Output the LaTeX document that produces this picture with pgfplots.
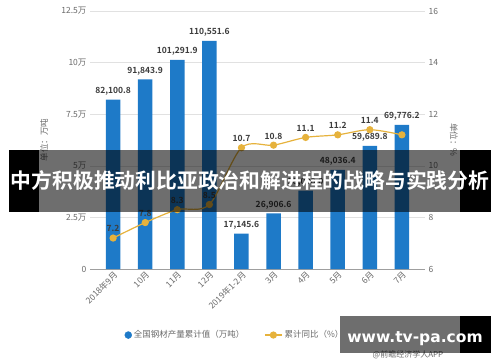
\documentclass[border=0pt]{standalone}
\usepackage{pgfplots}
\pgfplotsset{compat=1.18}
\usepackage{fontspec}
\setmainfont{Noto Sans CJK SC}[BoldFont={Noto Sans CJK SC Bold}]
\newfontfamily\dejavu{DejaVu Sans}
\definecolor{barblue}{RGB}{30,122,200}
\definecolor{linegold}{RGB}{230,178,60}
\definecolor{tickgray}{RGB}{105,105,105}
\definecolor{labgray}{RGB}{60,60,60}
\definecolor{gridgray}{RGB}{225,225,225}
\pgfplotstableread{
x y lab
0 82100.8 82,100.8
1 91843.9 91,843.9
2 101291.9 101,291.9
3 110551.6 110,551.6
4 17145.6 17,145.6
5 26906.6 26,906.6
6 38000.0 38,000.0
7 48036.4 48,036.4
8 59689.8 59,689.8
9 69776.2 69,776.2
}\bardata
\pgfplotstableread{
x y lab
0 7.2 7.2
1 7.8 7.8
2 8.3 8.3
3 8.5 8.5
4 10.7 10.7
5 10.8 10.8
6 11.1 11.1
7 11.2 11.2
8 11.4 11.4
9 11.2 {}
}\linedata
\begin{document}
\begin{tikzpicture}[x=1pt,y=1pt]
\useasboundingbox (0,0) rectangle (500,362);
\begin{axis}[
  at={(90pt,93pt)}, anchor=south west,
  scale only axis, width=335pt, height=258pt,
  xmin=-0.72, xmax=9.72,
  ymin=0, ymax=125000,
  scaled y ticks=false,
  axis y line*=left, axis x line*=bottom,
  axis line style={-},
  y axis line style={draw=none},
  x axis line style={draw=gray!75, line width=0.6pt},
  ytick={0,25000,50000,75000,100000,125000},
  yticklabels={0,2.5万,5万,7.5万,10万,12.5万},
  xtick={0,...,9},
  xticklabels={2018年9月,10月,11月,12月,2019年1-2月,3月,4月,5月,6月,7月},
  x tick label style={rotate=45, anchor=north east, font=\fontsize{8.5}{10}\selectfont, text=tickgray, inner sep=1pt},
  y tick label style={font=\fontsize{8.5}{10}\selectfont, text=tickgray},
  /pgf/number format/assume math mode=true,
  major tick length=0pt,
  ymajorgrids, grid style={gridgray, line width=0.6pt},
  clip=false,
]
\addplot[ybar, bar width=14.5pt, fill=barblue, draw=none,
  nodes near coords, point meta=explicit symbolic,
  every node near coord/.append style={font=\bfseries\fontsize{8.5}{10}\selectfont, text=labgray, yshift=1pt}]
  table[x=x, y=y, meta=lab] {\bardata};
\end{axis}
\begin{axis}[
  at={(90pt,93pt)}, anchor=south west,
  scale only axis, width=335pt, height=258pt,
  xmin=-0.72, xmax=9.72,
  ymin=6, ymax=16,
  axis y line*=right, axis x line=none,
  axis line style={-},
  y axis line style={draw=none},
  ytick={6,8,10,12,14,16},
  y tick label style={font=\fontsize{8.5}{10}\selectfont, text=tickgray},
  /pgf/number format/assume math mode=true,
  major tick length=0pt,
  clip=false,
  legend columns=2,
  legend style={at={(0.433,-0.256)}, anchor=center, draw=none, fill=none,
    font=\fontsize{8.5}{10}\selectfont, text=tickgray,
    /tikz/every even column/.append style={column sep=18pt}},
]
\addlegendimage{only marks, mark=*, mark size=3.5pt, mark options={draw=barblue, fill=barblue}}
\addlegendentry{全国钢材产量累计值（万吨）}
\addplot[linegold, line width=1.2pt, smooth, mark=*, mark size=3pt,
  mark options={fill=linegold, draw=linegold},
  nodes near coords, point meta=explicit symbolic,
  every node near coord/.append style={font=\bfseries\fontsize{8.5}{10}\selectfont, text=labgray, yshift=2pt}]
  table[x=x, y=y, meta=lab] {\linedata};
\addlegendentry{累计同比（\%）}
\end{axis}
% axis unit labels
\node[rotate=90, text=tickgray, font=\fontsize{8.5}{10}\selectfont] at (44,222) {单位：万吨};
\node[rotate=-90, text=tickgray, font=\fontsize{8.5}{10}\selectfont] at (454,222) {单位：\%};
% source
\node[text=tickgray, font=\fontsize{8}{10}\selectfont] at (408,7) {@前瞻经济学人APP};
% overlay banner
\fill[black, opacity=0.57] (39,150) rectangle (460,212);
\fill[black] (9,150) rectangle (39,212);
\fill[black] (460,150) rectangle (491,212);
\node[text=white, font=\bfseries\fontsize{20.8}{24}\selectfont, inner sep=0pt] at (250,181) {中方积极推动利比亚政治和解进程的战略与实践分析};
% bottom watermark box
\fill[black, opacity=0.57] (340,9) rectangle (460,46);
\fill[black] (460,9) rectangle (491,46);
\node[text=white, font=\dejavu\bfseries\fontsize{15.5}{18}\selectfont, anchor=base, inner sep=0pt] at (415,20) {www.tv-pa.com};
\end{tikzpicture}
\end{document}
